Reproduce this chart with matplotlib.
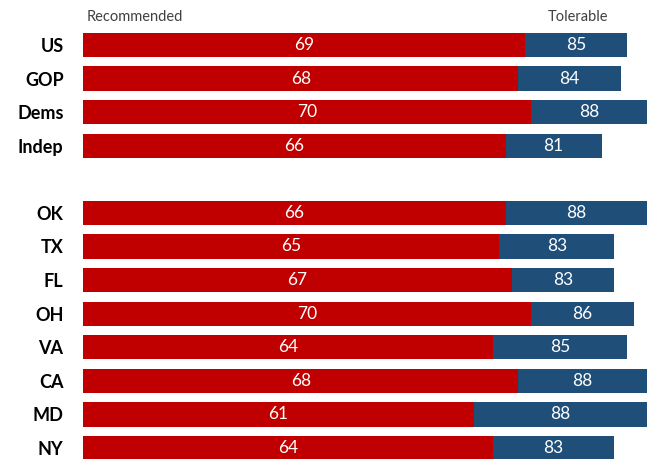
import matplotlib
matplotlib.use("Agg")
import matplotlib.pyplot as plt
import numpy as np

groups = ["US", "GOP", "Dems", "Indep", "OK", "TX", "FL", "OH", "VA", "CA", "MD", "NY"]
recommended = [69, 68, 70, 66, 66, 65, 67, 70, 64, 68, 61, 64]
tolerable = [85, 84, 88, 81, 88, 83, 83, 86, 85, 88, 88, 83]

RED = "#C00000"
BLUE = "#1F4E79"

plt.rcParams["font.family"] = ["Lato", "DejaVu Sans"]

W, H = 651, 459
fig = plt.figure(figsize=(W / 100, H / 100), dpi=100)

# row positions: national groups, a blank row, then states
ypos = np.array([0, 1, 2, 3, 5, 6, 7, 8, 9, 10, 11, 12], dtype=float)
row_px = 33.6
top_px = 45 - 0.5 * row_px
bottom_val = 12 + (H - 448) / row_px
ax_h = (H - top_px) / H
ax = fig.add_axes([83 / W, 0, 1 - 83 / W, ax_h])

rec = np.array(recommended)
tol = np.array(tolerable)
ax.barh(ypos, rec, height=0.72, color=RED, edgecolor="none")
ax.barh(ypos, tol - rec, left=rec, height=0.72, color=BLUE, edgecolor="none")

for y, r, t in zip(ypos, rec, tol):
    ax.text(r / 2, y, f"{r}", ha="center", va="center", color="white", fontsize=12.5)
    ax.text((r + t) / 2, y, f"{t}", ha="center", va="center", color="white", fontsize=12.5)

ax.set_xlim(0, 88.7)
ax.set_ylim(bottom_val, -0.5)
ax.set_yticks(ypos)
ax.set_yticklabels(groups, fontsize=13, fontweight="bold", color="black")
ax.tick_params(axis="y", length=0, pad=14)
ax.set_xticks([])
for s in ax.spines.values():
    s.set_visible(False)

fig.text(87 / W, 1 - 17 / H, "Recommended", ha="left", va="center", fontsize=10.5, color="#404040")
fig.text(578 / W, 1 - 17 / H, "Tolerable", ha="center", va="center", fontsize=10.5, color="#404040")

fig.savefig("out.png", dpi=100)
